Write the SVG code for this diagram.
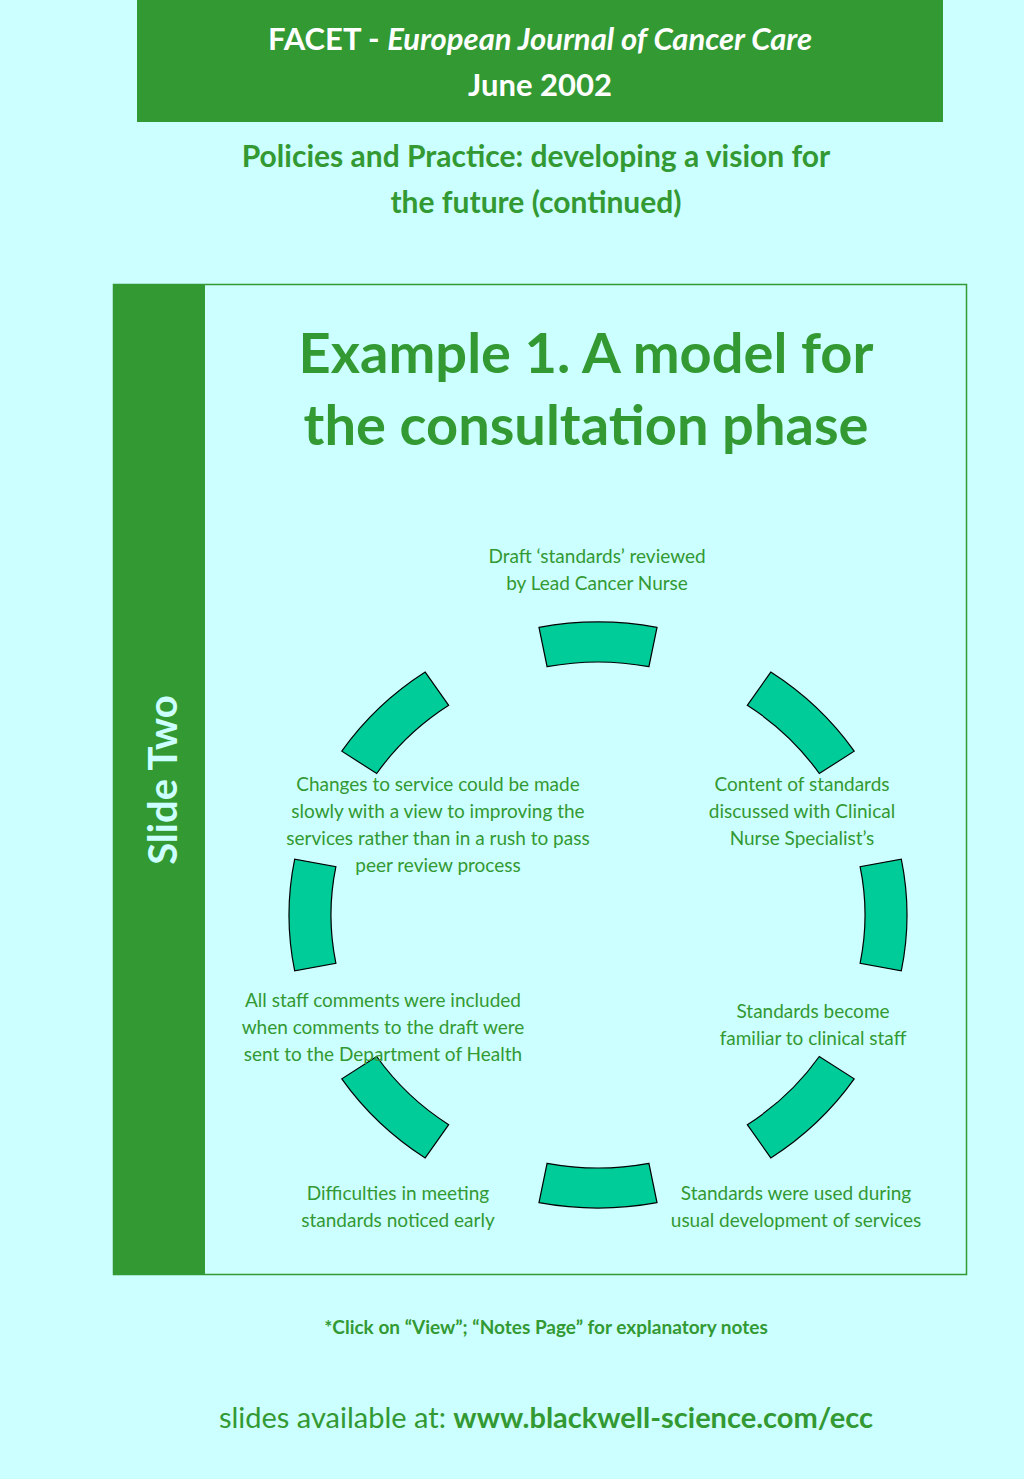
<svg xmlns="http://www.w3.org/2000/svg" width="1024" height="1479" viewBox="0 0 1024 1479">
<style>
.g{fill:#339933}
text{font-family:Lato,"Liberation Sans",sans-serif}
.lab{font-size:19px;fill:#339933;text-anchor:middle}
.seg{fill:#00cc99;stroke:#000;stroke-width:1.2}
</style>
<rect width="1024" height="1479" fill="#ccffff"/>
<g id="header">
<rect x="137" y="0" width="806" height="122" class="g"/>
<text x="540" y="50" font-size="31" font-weight="bold" fill="#fff" text-anchor="middle">FACET - <tspan font-style="italic">European Journal of Cancer Care</tspan></text>
<text x="540" y="96" font-size="31" font-weight="bold" fill="#fff" text-anchor="middle">June 2002</text>
</g>
<g id="subtitle" font-size="30" font-weight="bold" fill="#339933" text-anchor="middle">
<text x="536" y="167">Policies and Practice: developing a vision for</text>
<text x="536" y="213">the future (continued)</text>
</g>
<g id="frame">
<rect x="113.5" y="284.5" width="853" height="990" fill="none" stroke="#339933" stroke-width="1.5"/>
<rect x="113" y="284" width="92" height="991" class="g"/>
<text transform="translate(177,780) rotate(-90)" font-size="40" font-weight="bold" fill="#ccffff" text-anchor="middle">Slide Two</text>
</g>
<g id="title" font-size="56" font-weight="bold" fill="#339933" text-anchor="middle">
<text x="586" y="373">Example 1. A model for</text>
<text x="586" y="445">the consultation phase</text>
</g>
<g id="connectors">
<path class="seg" d="M539,627.4 A309 293 0 0 1 657,627.4 L648.9,666.7 A267 253 0 0 0 547.1,666.7 Z"/>
<path class="seg" d="M770.8,672.1 A309 293 0 0 1 854.2,751.2 L819.3,773.5 A267 253 0 0 0 747.3,705.3 Z"/>
<path class="seg" d="M901.3,859.1 A309 293 0 0 1 901.3,970.9 L860.1,963.3 A267 253 0 0 0 860.1,866.7 Z"/>
<path class="seg" d="M854.2,1078.8 A309 293 0 0 1 770.8,1157.9 L747.3,1124.7 A267 253 0 0 0 819.3,1056.5 Z"/>
<path class="seg" d="M657,1202.6 A309 293 0 0 1 539,1202.6 L547.1,1163.3 A267 253 0 0 0 648.9,1163.3 Z"/>
<path class="seg" d="M425.2,1157.9 A309 293 0 0 1 341.8,1078.8 L376.7,1056.5 A267 253 0 0 0 448.7,1124.7 Z"/>
<path class="seg" d="M294.7,970.9 A309 293 0 0 1 294.7,859.1 L335.9,866.7 A267 253 0 0 0 335.9,963.3 Z"/>
<path class="seg" d="M341.8,751.2 A309 293 0 0 1 425.2,672.1 L448.7,705.3 A267 253 0 0 0 376.7,773.5 Z"/>
</g>
<g id="n1" class="lab"><text class="lab" x="597" y="563">Draft  ‘standards’ reviewed</text><text class="lab" x="597" y="590">by Lead Cancer Nurse</text></g>
<g id="n2"><text class="lab" x="802" y="791">Content of standards</text><text class="lab" x="802" y="818">discussed  with Clinical</text><text class="lab" x="802" y="845">Nurse Specialist’s</text></g>
<g id="n3"><text class="lab" x="813" y="1018">Standards become</text><text class="lab" x="813" y="1045">familiar to clinical staff</text></g>
<g id="n4"><text class="lab" x="796" y="1200">Standards were used during</text><text class="lab" x="796" y="1227">usual development of services</text></g>
<g id="n5"><text class="lab" x="398" y="1200">Difficulties in meeting</text><text class="lab" x="398" y="1227">standards noticed early</text></g>
<g id="n6"><text class="lab" x="383" y="1007">All staff comments were included</text><text class="lab" x="383" y="1034">when comments to the draft were</text><text class="lab" x="383" y="1061">sent to the Department of Health</text></g>
<g id="n7"><text class="lab" x="438" y="791">Changes to service could be made</text><text class="lab" x="438" y="818">slowly with a view to improving the</text><text class="lab" x="438" y="845">services rather than in a rush to pass</text><text class="lab" x="438" y="872">peer review process</text></g>
<g id="footer" fill="#339933">
<text x="546" y="1334" font-size="19" font-weight="bold" text-anchor="middle">*Click on “View”; “Notes Page” for explanatory notes</text>
<text x="546" y="1428" font-size="29" text-anchor="middle">slides available at: <tspan font-weight="bold">www.blackwell-science.com/ecc</tspan></text>
</g>
</svg>
